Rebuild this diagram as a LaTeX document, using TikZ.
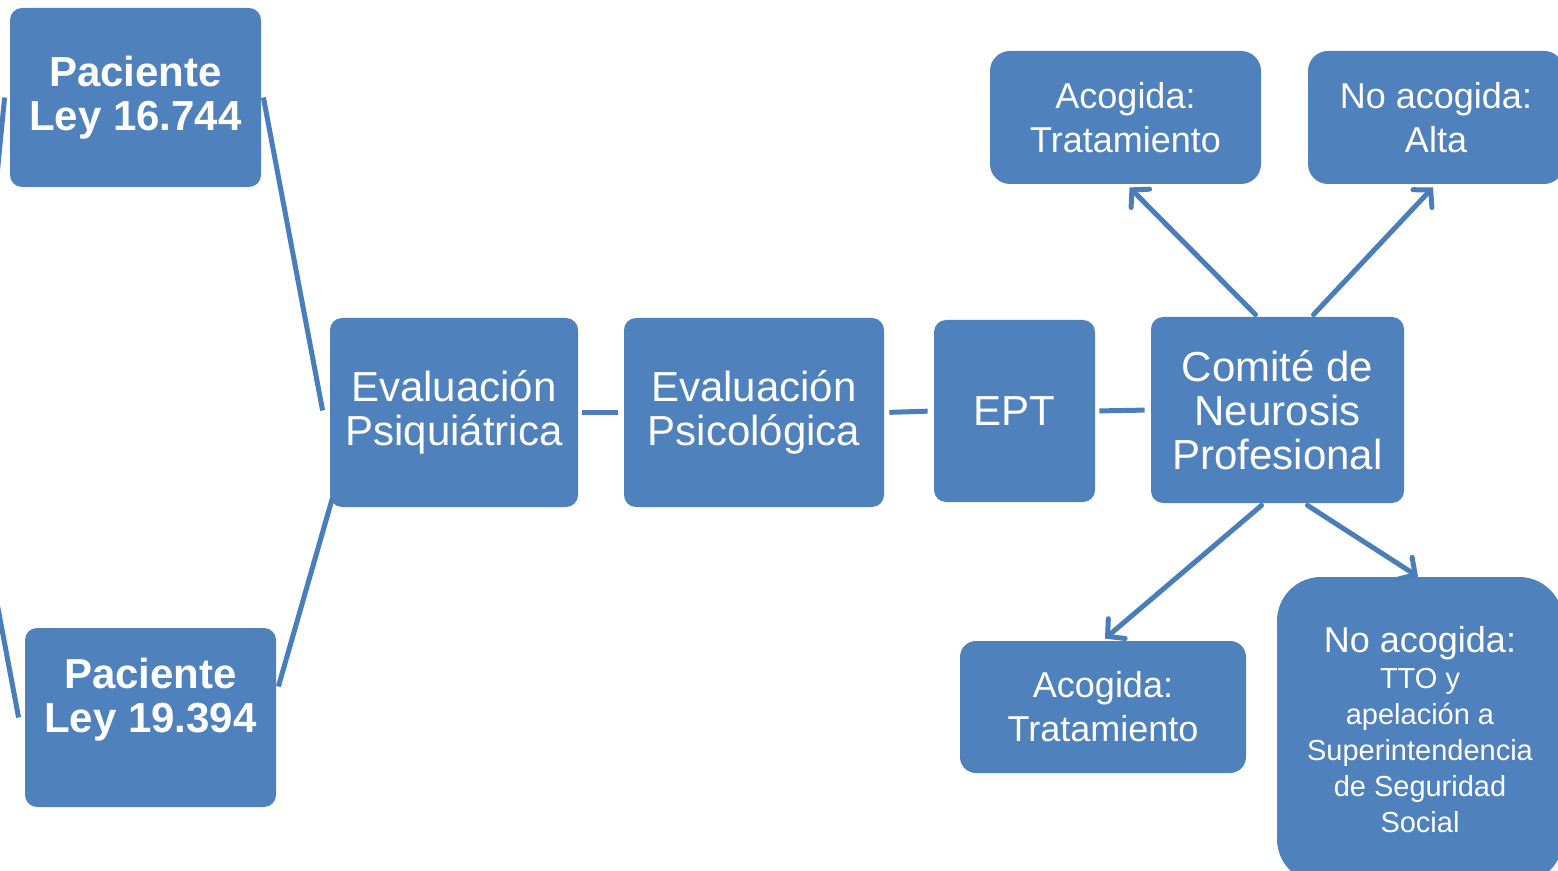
\documentclass[tikz,border=0pt]{standalone}
\usepackage{fontspec}
\setmainfont{Liberation Sans}
\usetikzlibrary{arrows.meta}
\definecolor{boxblue}{HTML}{4F81BD}
\definecolor{lineblue}{HTML}{4A7EBB}
\tikzset{
  box/.style={fill=boxblue, rounded corners=6pt, inner sep=0pt, align=center, text=white,
    font=\fontsize{21}{22}\selectfont},
  boldbox/.style={box, font=\fontsize{21}{22}\selectfont\bfseries},
  smallbox/.style={box, font=\fontsize{18}{22}\selectfont},
  conn/.style={draw=lineblue, line width=2.5pt},
  arr/.style={conn, line cap=round, -{Straight Barb[length=6pt,width=13pt,line cap=round]}}
}
\begin{document}
\begin{tikzpicture}[x=0.5pt,y=-0.5pt]
\useasboundingbox (0,0) rectangle (1558,871);
\clip (0,0) rectangle (1558,871);
\fill[white] (0,0) rectangle (1558,871);
% nodes
\node[boldbox, minimum width=125.5pt, minimum height=89.5pt] (p1) at (135.5,97.5) {Paciente\\Ley 16.744};
\node[boldbox, minimum width=125.5pt, minimum height=89.5pt] (p2) at (150.5,717.5) {Paciente\\Ley 19.394\\\mbox{}};
\node[box, minimum width=124pt, minimum height=94.5pt] (ep) at (454,412.5) {Evaluación\\Psiquiátrica};
\node[box, minimum width=130pt, minimum height=94.5pt] (es) at (754,412.5) {Evaluación\\Psicológica};
\node[box, minimum width=80.5pt, minimum height=91pt] (ept) at (1014.5,411) {EPT};
\node[box, minimum width=126.5pt, minimum height=93pt] (cm) at (1277.5,410) {Comité de\\Neurosis\\Profesional};
\node[smallbox, minimum width=135.5pt, minimum height=66.5pt, rounded corners=10pt] (at) at (1125.5,117.5) {Acogida:\\Tratamiento};
\node[smallbox, minimum width=128pt, minimum height=66.5pt, rounded corners=10pt] (nt) at (1436,117.5) {No acogida:\\Alta};
\node[smallbox, minimum width=143pt, minimum height=66pt, rounded corners=8pt] (ab) at (1103,707) {Acogida:\\Tratamiento};
\node[box, minimum width=143pt, minimum height=153pt, rounded corners=22pt,
  font=\fontsize{14.5}{18}\selectfont] (nb) at (1420,730)
  {{\fontsize{18}{21}\selectfont No acogida:}\\TTO y\\apelación a\\Superintendencia\\de Seguridad\\Social};
% free ends off the page
\coordinate (off1) at (-10,247);
\coordinate (off2) at (-10,566);
% connectors
\draw[conn] ([xshift=-2.5pt]p1.west) -- (off1);
\draw[conn] ([xshift=-3pt]p2.west) -- (off2);
\draw[conn] ([xshift=1pt]p1.east) -- ([xshift=-3.5pt,yshift=1pt]ep.west);
\draw[conn] ([xshift=1pt,yshift=15.5pt]p2.east) -- ([xshift=1.5pt,yshift=5pt]ep.south west);
\draw[conn, shorten <=2pt, shorten >=3pt] (ep.east) -- (es.west);
\draw[conn, shorten <=2.5pt, shorten >=3pt] (es.east) -- (ept.west);
\draw[conn, shorten <=2pt, shorten >=3pt] (ept.east) -- (cm.west);
\draw[arr] ([xshift=-11pt,yshift=1pt]cm.north) -- ([xshift=2pt,yshift=-1.5pt]at.south);
\draw[arr] ([xshift=18pt,yshift=1pt]cm.north) -- ([xshift=-1.5pt,yshift=-1.5pt]nt.south);
\draw[arr] ([xshift=-8pt,yshift=-1pt]cm.south) -- ([xshift=1pt,yshift=1pt]ab.north);
\draw[arr] ([xshift=15pt,yshift=-1pt]cm.south) -- ([xshift=-1pt]nb.north);
\end{tikzpicture}
\end{document}
